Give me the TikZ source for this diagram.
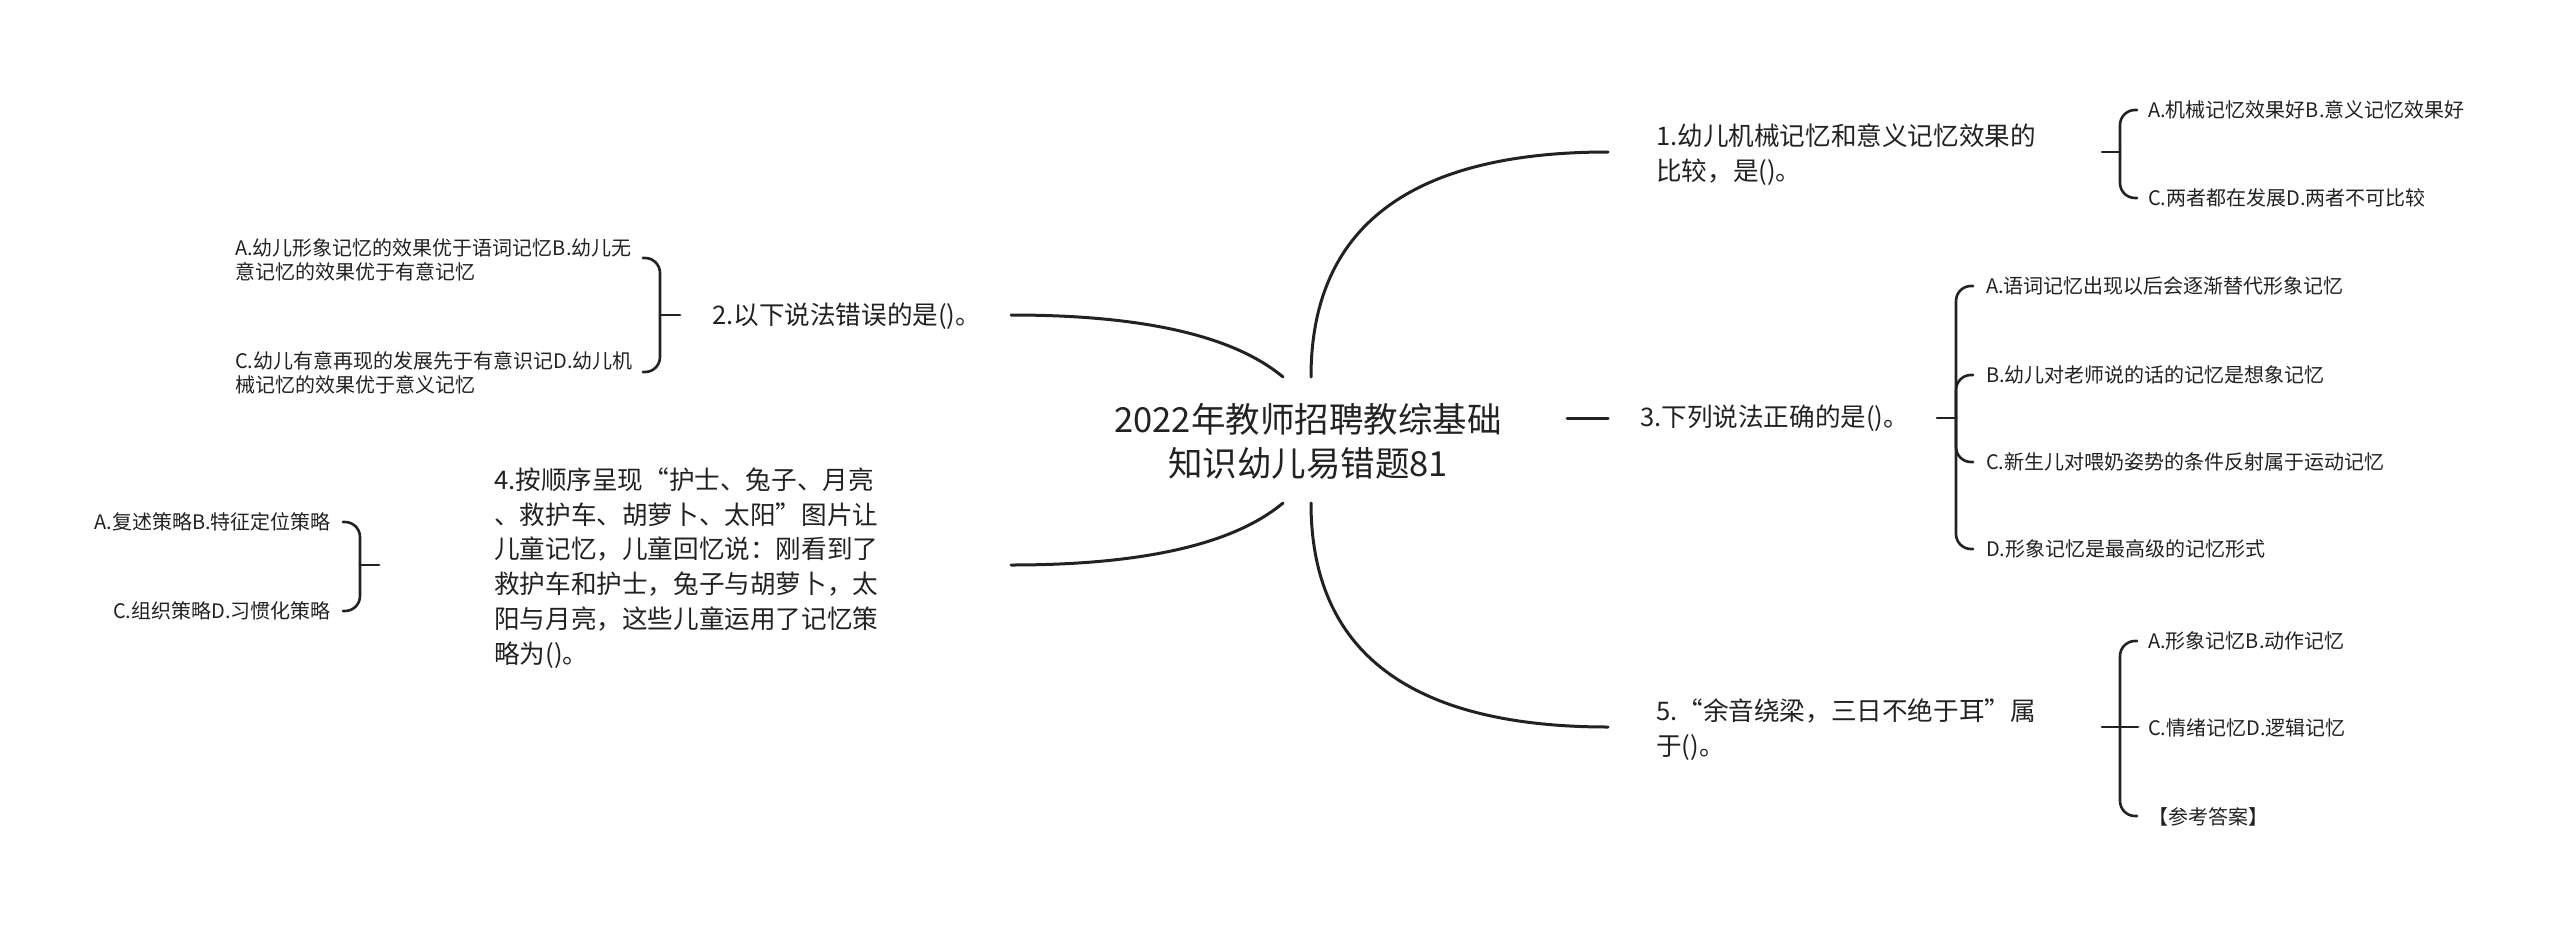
\documentclass[tikz,border=0pt]{standalone}
\usepackage{fontspec}
\setmainfont{Noto Sans CJK SC}
\definecolor{ink}{HTML}{222222}
\begin{document}
\begin{tikzpicture}[x=1pt,y=-1pt,
  line/.style={line width=3pt, draw=ink, line cap=round},
  brace/.style={line width=2.6pt, draw=ink, line cap=round, rounded corners=15pt},
  rootf/.style={font=\fontsize{34.5}{44}\selectfont, text=ink, align=center, inner sep=0pt},
  qf/.style={font=\fontsize{25.6}{34.8}\selectfont, text=ink, align=left, inner sep=0pt, anchor=west},
  cf/.style={font=\fontsize{20}{24.5}\selectfont, text=ink, align=left, inner sep=0pt, anchor=west}]
\useasboundingbox (0,0) rectangle (2560,924);
\fill[white] (0,0) rectangle (2560,924);

% root and questions
\node[rootf] (root) at (1308,441) {2022年教师招聘教综基础\\知识幼儿易错题81};
\node[qf] (q1) at (1656,154.5) {1.幼儿机械记忆和意义记忆效果的\\比较，是()。};
\node[qf] (q2) at (712,316) {2.以下说法错误的是()。};
\node[qf] (q3) at (1640,418) {3.下列说法正确的是()。};
\node[qf] (q4) at (494,568) {4.按顺序呈现“护士、兔子、月亮\\、救护车、胡萝卜、太阳”图片让\\儿童记忆，儿童回忆说：刚看到了\\救护车和护士，兔子与胡萝卜，太\\阳与月亮，这些儿童运用了记忆策\\略为()。};
\node[qf] (q5) at (1656,730) {5.“余音绕梁，三日不绝于耳”属\\于()。};

% answers
\node[cf] (q1a) at (2148,110) {A.机械记忆效果好B.意义记忆效果好};
\node[cf] (q1b) at (2148,198) {C.两者都在发展D.两者不可比较};
\node[cf] (q2a) at (235,260) {A.幼儿形象记忆的效果优于语词记忆B.幼儿无\\意记忆的效果优于有意记忆};
\node[cf] (q2b) at (235,373) {C.幼儿有意再现的发展先于有意识记D.幼儿机\\械记忆的效果优于意义记忆};
\node[cf] (q3a) at (1986,286) {A.语词记忆出现以后会逐渐替代形象记忆};
\node[cf] (q3b) at (1986,375) {B.幼儿对老师说的话的记忆是想象记忆};
\node[cf] (q3c) at (1986,462) {C.新生儿对喂奶姿势的条件反射属于运动记忆};
\node[cf] (q3d) at (1986,549) {D.形象记忆是最高级的记忆形式};
\node[cf, anchor=east] (q4a) at (331,522) {A.复述策略B.特征定位策略};
\node[cf, anchor=east] (q4b) at (331,611) {C.组织策略D.习惯化策略};
\node[cf] (q5a) at (2148,641) {A.形象记忆B.动作记忆};
\node[cf] (q5b) at (2148,728) {C.情绪记忆D.逻辑记忆};
\node[cf] (q5c) at (2148,817) {【参考答案】};

% attach points
\coordinate (r1) at (1311,377); \coordinate (e1) at (1608,152);
\coordinate (r2) at (1283,377); \coordinate (e2) at (1011,315);
\coordinate (r3) at (1567,418); \coordinate (e3) at (1608,418);
\coordinate (r4) at (1283,503); \coordinate (e4) at (1011,565);
\coordinate (r5) at (1311,503); \coordinate (e5) at (1608,727);

% main branches
\draw[line] (r1) .. controls (1311,227) and (1410,152) .. (e1);
\draw[line] (r2) .. controls (1234,336) and (1144,315) .. (e2);
\draw[line] (r3) -- (e3);
\draw[line] (r4) .. controls (1234,544) and (1144,565) .. (e4);
\draw[line] (r5) .. controls (1311,652) and (1410,727) .. (e5);

% bracket Q1
\coordinate (t1) at (2102,152); \coordinate (s1) at (2120,152);
\coordinate (h1a) at (2137,110); \coordinate (h1b) at (2137,198);
\draw[brace] (t1) -- (s1);
\draw[brace] (s1) |- (h1a);
\draw[brace] (s1) |- (h1b);

% bracket Q2
\coordinate (t2) at (680,315); \coordinate (s2) at (660,315);
\coordinate (h2a) at (643,258); \coordinate (h2b) at (643,372);
\draw[brace] (t2) -- (s2);
\draw[brace] (s2) |- (h2a);
\draw[brace] (s2) |- (h2b);

% bracket Q3
\coordinate (t3) at (1937,418); \coordinate (s3) at (1956,418);
\coordinate (h3a) at (1973,286); \coordinate (h3b) at (1973,375);
\coordinate (h3c) at (1973,462); \coordinate (h3d) at (1973,549);
\draw[brace] (t3) -- (s3);
\draw[brace] (s3) |- (h3a);
\draw[brace] (s3) |- (h3b);
\draw[brace] (s3) |- (h3c);
\draw[brace] (s3) |- (h3d);

% bracket Q4
\coordinate (t4) at (379,565); \coordinate (s4) at (360,565);
\coordinate (h4a) at (343,522); \coordinate (h4b) at (343,611);
\draw[brace] (t4) -- (s4);
\draw[brace] (s4) |- (h4a);
\draw[brace] (s4) |- (h4b);

% bracket Q5
\coordinate (t5) at (2102,727); \coordinate (s5) at (2120,727);
\coordinate (h5a) at (2137,641); \coordinate (h5b) at (2138,727);
\coordinate (h5c) at (2137,816);
\draw[brace] (t5) -- (s5);
\draw[brace] (s5) |- (h5a);
\draw[brace] (s5) -- (h5b);
\draw[brace] (s5) |- (h5c);
\end{tikzpicture}
\end{document}
